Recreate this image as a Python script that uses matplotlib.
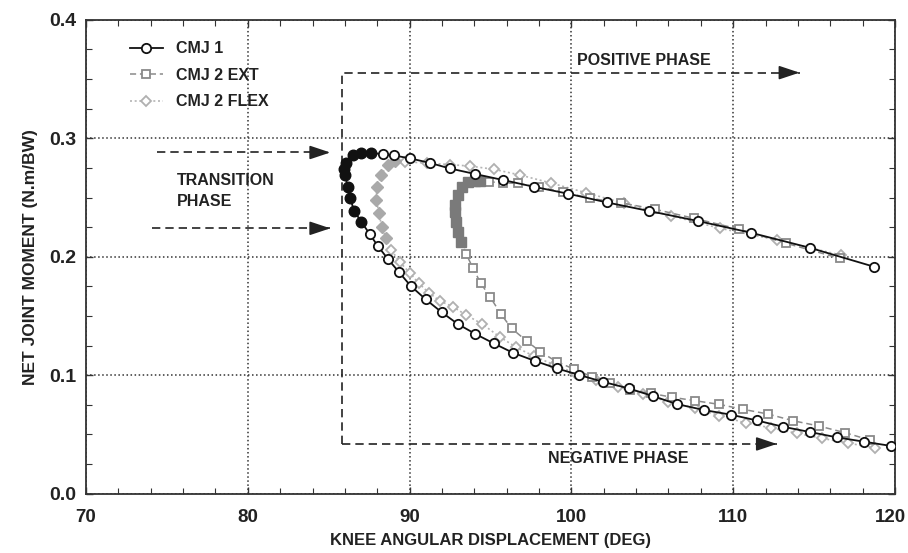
import matplotlib
matplotlib.use('Agg')
import matplotlib.pyplot as plt
from matplotlib.ticker import MultipleLocator, FormatStrFormatter
from matplotlib.lines import Line2D
from matplotlib.transforms import ScaledTranslation
import numpy as np

# ---------------- data ----------------
# CMJ 1 (continuous path: lower/negative branch -> transition -> upper/positive branch)
cmj1_x = [119.77, 118.09, 116.40, 114.73, 113.09, 111.44, 109.86, 108.21, 106.50, 105.02,
          103.54, 101.93, 100.49, 99.09, 97.72, 96.38, 95.20, 94.07, 92.98, 91.99,
          90.99, 90.06, 89.34, 88.66, 88.04, 87.53,
          87.02, 86.56, 86.34, 86.19, 85.99, 85.95, 86.09, 86.50, 87.02, 87.64,
          88.35, 89.04, 90.04, 91.23, 92.47, 94.06, 95.80, 97.67, 99.80, 102.18,
          104.81, 107.84, 111.09, 114.73, 118.70]
cmj1_y = [0.0403, 0.0439, 0.0476, 0.0521, 0.0565, 0.0619, 0.0667, 0.0706, 0.0757, 0.0825,
          0.0889, 0.0945, 0.1002, 0.1058, 0.1122, 0.1190, 0.1269, 0.1348, 0.1432, 0.1531,
          0.1641, 0.1755, 0.1871, 0.1981, 0.2090, 0.2192,
          0.2295, 0.2388, 0.2493, 0.2591, 0.2689, 0.2740, 0.2788, 0.2858, 0.2873, 0.2878,
          0.2864, 0.2855, 0.2830, 0.2793, 0.2746, 0.2698, 0.2647, 0.2591, 0.2532, 0.2459,
          0.2386, 0.2301, 0.2203, 0.2076, 0.1916]
cmj1_transition = (26, 36)   # index range of transition-phase (filled) points

# CMJ 2 EXT
ext_x = [118.44, 116.91, 115.31, 113.70, 112.14, 110.62, 109.14, 107.65, 106.23, 104.92,
         103.62, 102.41, 101.28, 100.19, 99.09, 98.09, 97.25, 96.30, 95.63, 94.99,
         94.40, 93.91, 93.50,
         93.19, 92.98, 92.84, 92.78, 92.81, 92.98, 93.24, 93.64, 94.04, 94.38,
         94.90, 95.76, 96.69, 98.02, 99.46, 101.15, 103.07, 105.19, 107.59, 110.33,
         113.29, 116.59]
ext_y = [0.0453, 0.0515, 0.0571, 0.0616, 0.0673, 0.0712, 0.0754, 0.0785, 0.0814, 0.0847,
         0.0875, 0.0932, 0.0987, 0.1050, 0.1114, 0.1198, 0.1287, 0.1396, 0.1519, 0.1658,
         0.1776, 0.1905, 0.2023,
         0.2127, 0.2211, 0.2295, 0.2380, 0.2436, 0.2521, 0.2591, 0.2628, 0.2639, 0.2639,
         0.2633, 0.2624, 0.2619, 0.2586, 0.2549, 0.2493, 0.2456, 0.2400, 0.2324, 0.2234,
         0.2113, 0.1987]
ext_transition = (23, 33)

# CMJ 2 FLEX
flex_x = [118.77, 117.08, 115.46, 113.93, 112.33, 110.76, 109.14, 107.62, 106.00, 104.40,
          102.90, 101.50, 100.20, 98.90, 97.70, 96.60, 95.56, 94.49, 93.50, 92.67,
          91.85, 91.19, 90.57, 90.00, 89.38, 88.87,
          88.56, 88.27, 88.12, 87.93, 87.99, 88.25, 88.66, 89.07,
          89.69, 91.05, 92.50, 93.75, 95.22, 96.82, 98.75, 100.91, 103.27, 106.15,
          109.18, 112.73, 116.65]
flex_y = [0.0386, 0.0428, 0.0468, 0.0510, 0.0556, 0.0597, 0.0660, 0.0723, 0.0778, 0.0838,
          0.0898, 0.0958, 0.1020, 0.1090, 0.1160, 0.1235, 0.1325, 0.1432, 0.1508, 0.1578,
          0.1629, 0.1696, 0.1776, 0.1865, 0.1958, 0.2057,
          0.2155, 0.2250, 0.2368, 0.2478, 0.2588, 0.2694, 0.2774, 0.2812,
          0.2802, 0.2791, 0.2778, 0.2765, 0.2738, 0.2690, 0.2622, 0.2540, 0.2451, 0.2346,
          0.2240, 0.2141, 0.2014]
flex_transition = (26, 34)

series_labels = ['CMJ 1', 'CMJ 2 EXT', 'CMJ 2 FLEX']
x_ticks = [70, 80, 90, 100, 110, 120]
y_ticks = [0.0, 0.1, 0.2, 0.3, 0.4]

# phase annotation paths
positive_path_x = [85.83, 85.83, 114.1]
positive_path_y = [0.042, 0.3554, 0.3554]
negative_path_x = [85.83, 112.7]
negative_path_y = [0.042, 0.042]
transition_arrow1_x = [74.4, 85.1]
transition_arrow1_y = [0.288, 0.288]
transition_arrow2_x = [74.1, 85.1]
transition_arrow2_y = [0.224, 0.224]

# ---------------- plot ----------------
plt.rcParams['font.family'] = ['Liberation Sans', 'DejaVu Sans']
plt.rcParams['font.weight'] = 'bold'

fig = plt.figure(figsize=(9.08, 5.53), dpi=100)
ax = fig.add_axes([0.0947, 0.1072, 0.891, 0.857])
ax.set_xlim(70, 120)
ax.set_ylim(0, 0.4)


def draw(x, y, trans, color, ls, dashes, lw, marker, ms, mec, fillc, fms, z):
    x = np.asarray(x)
    y = np.asarray(y)
    kw = dict(color=color, lw=lw, zorder=z)
    if dashes is not None:
        ax.plot(x, y, ls=ls, dashes=dashes, **kw)
    else:
        ax.plot(x, y, ls=ls, **kw)
    idx = np.arange(len(x))
    t = (idx >= trans[0]) & (idx < trans[1])
    ax.plot(x[~t], y[~t], ls='none', marker=marker, ms=ms, mfc='white',
            mec=mec, mew=1.3, zorder=z + 0.1)
    ax.plot(x[t], y[t], ls='none', marker=marker, ms=fms, mfc=fillc,
            mec=fillc, mew=1.0, zorder=z + 0.2)


draw(flex_x, flex_y, flex_transition, '#b4b4b4', '--', (1.2, 1.6), 1.2,
     'D', 5.2, '#b0b0b0', '#a9a9a9', 6.2, 3)
draw(ext_x, ext_y, ext_transition, '#8a8a8a', '--', (4, 2.5), 1.1,
     's', 6.3, '#8a8a8a', '#7a7a7a', 7.0, 4)
draw(cmj1_x, cmj1_y, cmj1_transition, '#111111', '-', None, 1.3,
     'o', 6.7, '#111111', '#111111', 7.6, 5)

# grid and axes
ax.set_xticks(x_ticks)
ax.set_yticks(y_ticks)
ax.xaxis.set_minor_locator(MultipleLocator(2))
ax.yaxis.set_minor_locator(MultipleLocator(0.025))
ax.yaxis.set_major_formatter(FormatStrFormatter('%.1f'))
ax.grid(True, which='major', ls=':', color='#333333', lw=1.1)
ax.tick_params(which='both', direction='in', top=True, right=True, color='#333333')
ax.tick_params(which='major', length=5, width=1.0)
ax.tick_params(which='minor', length=4, width=0.8)
ax.tick_params(axis='x', which='major', pad=11, labelsize=13.5)
ax.tick_params(axis='y', which='major', pad=7, labelsize=14)
for s in ax.spines.values():
    s.set_linewidth(1.3)
    s.set_color('#333333')
for lab in ax.get_xticklabels() + ax.get_yticklabels():
    lab.set_fontweight('bold')
    lab.set_color('#222222')
# nudge the last x tick label so it stays inside the figure edge
last = ax.get_xticklabels()[-1]
last.set_transform(last.get_transform() + ScaledTranslation(-5 / 100, 0, fig.dpi_scale_trans))

ax.set_xlabel('KNEE ANGULAR DISPLACEMENT (DEG)', fontsize=12, fontweight='bold',
              color='#222222', labelpad=5)
ax.set_ylabel('NET JOINT MOMENT (N.m/BW)', fontsize=12.5, fontweight='bold',
              color='#222222', labelpad=8)

# phase annotations
acol = '#222222'
for px, py in [(positive_path_x, positive_path_y), (negative_path_x, negative_path_y),
               (transition_arrow1_x, transition_arrow1_y), (transition_arrow2_x, transition_arrow2_y)]:
    ax.plot(px, py, ls='--', dashes=(5, 3), color=acol, lw=1.2, zorder=2)
    ax.annotate('', xy=(px[-1], py[-1]), xytext=(px[-1] - 0.8, py[-1]),
                arrowprops=dict(arrowstyle='-|>,head_length=0.9,head_width=0.3',
                                color=acol, lw=1.2, shrinkA=0, shrinkB=0,
                                mutation_scale=14), zorder=2)

ax.text(100.37, 0.366, 'POSITIVE PHASE', fontsize=11.5, fontweight='bold',
        va='center', ha='left', color=acol)
ax.text(98.58, 0.030, 'NEGATIVE PHASE', fontsize=11.5, fontweight='bold',
        va='center', ha='left', color=acol)
ax.text(75.62, 0.2555, 'TRANSITION\nPHASE', fontsize=11.5, fontweight='bold',
        va='center', ha='left', color=acol, linespacing=1.45)

# legend
handles = [
    Line2D([], [], color='#111111', lw=1.3, marker='o', ms=6.7, mfc='white', mec='#111111', mew=1.3),
    Line2D([], [], color='#8a8a8a', lw=1.1, ls='--', dashes=(4, 2.5), marker='s', ms=6.3,
           mfc='white', mec='#8a8a8a', mew=1.3),
    Line2D([], [], color='#b4b4b4', lw=1.2, ls='--', dashes=(1.2, 1.6), marker='D', ms=5.2,
           mfc='white', mec='#b0b0b0', mew=1.3),
]
leg = ax.legend(handles, series_labels, loc='upper left', bbox_to_anchor=(0.054, 0.955),
                frameon=False, fontsize=11.5, handlelength=2.1, handletextpad=0.8,
                labelspacing=0.72, borderaxespad=0, borderpad=0)
for t in leg.get_texts():
    t.set_fontweight('bold')
    t.set_color('#222222')

fig.savefig('out.png', dpi=100, facecolor='white')
